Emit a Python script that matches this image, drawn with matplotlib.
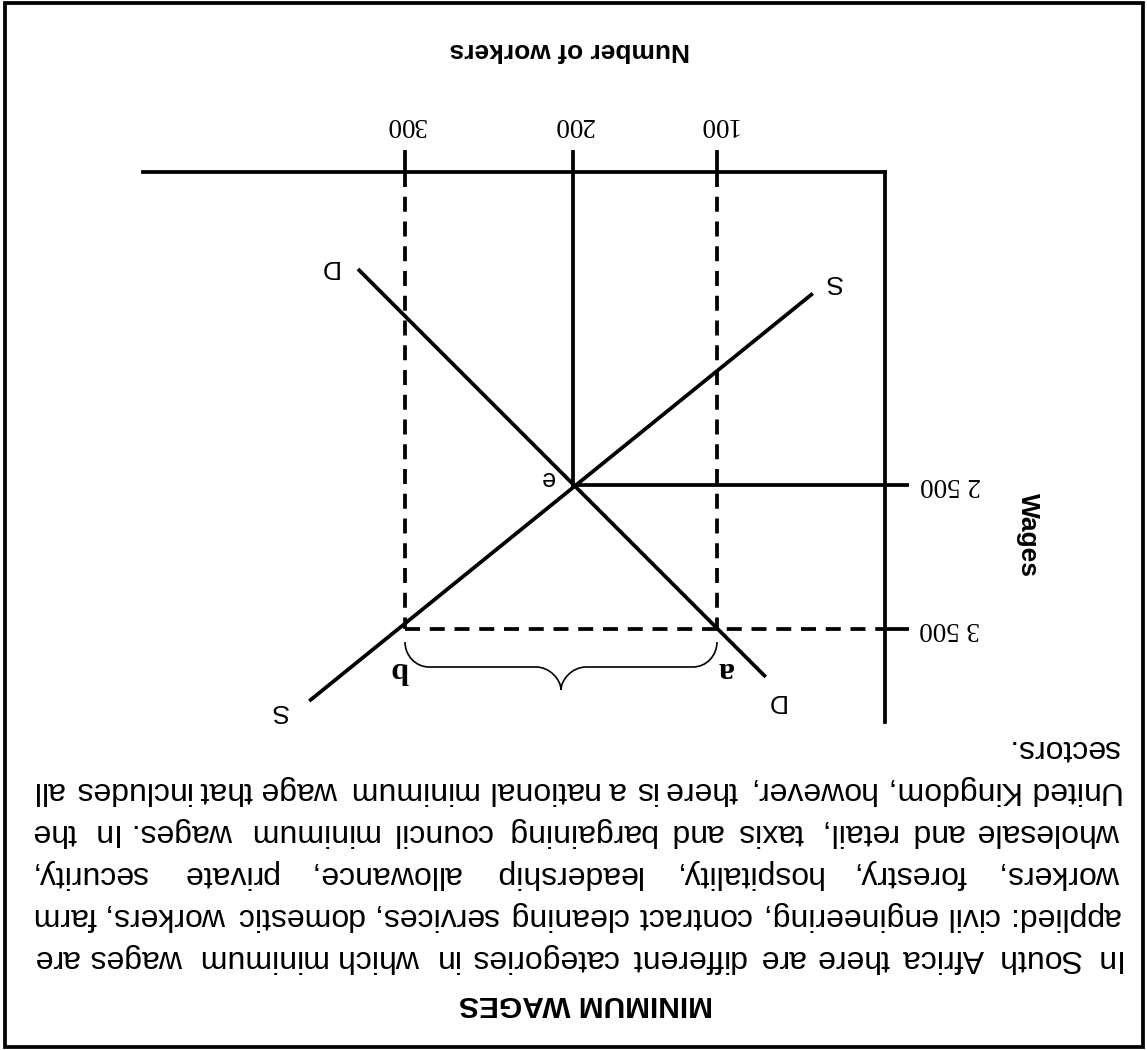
import numpy as np
import matplotlib
matplotlib.use("Agg")
import matplotlib.pyplot as plt
from matplotlib import font_manager
from matplotlib.path import Path
from matplotlib.patches import PathPatch, Rectangle
from matplotlib.transforms import IdentityTransform

W, H = 1147, 1050

title = "MINIMUM WAGES"
para_lines = [
    "In South Africa there are different categories in which minimum wages are",
    "applied: civil engineering, contract cleaning services, domestic workers, farm",
    "workers, forestry, hospitality, leadership allowance, private security,",
    "wholesale and retail, taxis and bargaining council minimum wages. In the",
    "United Kingdom, however, there is a national minimum wage that includes all",
    "sectors.",
]

x_label = "Number of workers"
y_label = "Wages"
q_ticks = [100, 200, 300]
q_tick_labels = ["100", "200", "300"]
w_ticks = [2500, 3500]
w_tick_labels = ["2 500", "3 500"]

# equilibrium (e) and the minimum wage points a, b
q_e, w_e = 200, 2500
q_a, q_b, w_min = 100, 300, 3500

# end points of the two curves
D_q = [328, 71]
D_w = [1000, 3833]
S_q = [43, 357]
S_w = [1170, 4000]

# the sketch is not drawn to scale -> piecewise x scale (px from the origin)
q_knots = [0, 100, 200, 300, 500]
g_knots = [0, 168, 312, 480, 816]

sans = "Liberation Sans"
serif = "Liberation Serif"
installed = {f.name for f in font_manager.fontManager.ttflist}
if "Liberation Sans Narrow" in installed:
    body_font, body_size, title_size = "Liberation Sans Narrow", 27, 25.5
else:
    body_font, body_size, title_size = sans, 23, 21.5
lw = 2.7

fig = plt.figure(figsize=(W / 100, H / 100), dpi=100)


def fx(px):
    return px / W


def fy(py):
    # py counted from the top of the picture
    return 1 - py / H


# the whole page is upside down, so both axes run backwards
ax_l, ax_r, ax_t, ax_b = 143, 885, 172, 722
ax = fig.add_axes([fx(ax_l), fy(ax_b), fx(ax_r) - fx(ax_l), fy(ax_t) - fy(ax_b)])
ax.patch.set_visible(False)
ax.set_xscale("function", functions=(lambda q: np.interp(q, q_knots, g_knots),
                                     lambda g: np.interp(g, g_knots, q_knots)))
q_far = np.interp(ax_r - ax_l, g_knots, q_knots)
ax.set_xlim(q_far, 0)

px_per_w = (629 - 485) / 1000.0
w_top = w_e - (485 - ax_t) / px_per_w
w_bot = w_e + (ax_b - 485) / px_per_w
ax.set_ylim(w_bot, w_top)

for s in ["left", "bottom"]:
    ax.spines[s].set_visible(False)
for s in ["top", "right"]:
    ax.spines[s].set_linewidth(lw)
    ax.spines[s].set_capstyle("projecting")

ax.xaxis.tick_top()
ax.yaxis.tick_right()
ax.set_xticks(q_ticks)
ax.set_xticklabels(q_tick_labels, rotation=180, fontsize=19.5, family=serif)
ax.set_yticks(w_ticks)
ax.set_yticklabels(w_tick_labels, rotation=180, fontsize=19.5, family=serif, va="center")
ax.tick_params(axis="x", direction="out", length=16, width=lw, pad=9)
ax.tick_params(axis="y", direction="out", length=17, width=lw, pad=8)

# curves
ax.plot(D_q, D_w, color="black", lw=lw, solid_capstyle="butt")
ax.plot(S_q, S_w, color="black", lw=lw, solid_capstyle="butt")

# equilibrium lines
ax.plot([q_e, q_e], [w_e, w_top], color="black", lw=lw, clip_on=False)
ax.plot([q_e, 0], [w_e, w_e], color="black", lw=lw, clip_on=False)

# minimum wage dashed lines
dash = (0, (4, 2.6))
ax.plot([q_a, q_a], [w_top, w_min], color="black", lw=lw, ls=dash, clip_on=False)
ax.plot([q_b, q_b], [w_top, w_min], color="black", lw=lw, ls=dash, clip_on=False)
ax.plot([q_b, 0], [w_min, w_min], color="black", lw=lw, ls=dash, clip_on=False)

# curly brace under a-b
pb = ax.transData.transform((q_b, w_min))
pa = ax.transData.transform((q_a, w_min))
L, R = pb[0], pa[0]
M = (L + R) / 2
y0, y1, y2 = pb[1] - 13, pb[1] - 38, pb[1] - 61
k = 0.55
rc, rm = 24, 25
verts = [
    (L, y0), (L, y0 - k * (y0 - y1)), (L + rc - k * rc, y1), (L + rc, y1),
    (M - rm, y1),
    (M - rm + k * rm, y1), (M, y1 - k * (y1 - y2)), (M, y2),
    (M, y1 - k * (y1 - y2)), (M + rm - k * rm, y1), (M + rm, y1),
    (R - rc, y1),
    (R - rc + k * rc, y1), (R, y0 - k * (y0 - y1)), (R, y0),
]
codes = [Path.MOVETO, Path.CURVE4, Path.CURVE4, Path.CURVE4, Path.LINETO,
         Path.CURVE4, Path.CURVE4, Path.CURVE4,
         Path.CURVE4, Path.CURVE4, Path.CURVE4, Path.LINETO,
         Path.CURVE4, Path.CURVE4, Path.CURVE4]
fig.add_artist(PathPatch(Path(verts, codes), transform=IdentityTransform(),
                         fill=False, ec="black", lw=1.2))


# point and curve labels
def mark(txt, xy, off, **kw):
    ax.annotate(txt, xy=xy, xytext=off, textcoords="offset points", rotation=180,
                ha="center", va="center", annotation_clip=False, **kw)


mark("a", (q_a, w_min), (6, -29), fontsize=23, family=serif, fontweight="bold")
mark("b", (q_b, w_min), (-4, -29), fontsize=23, family=serif, fontweight="bold")
mark("e", (q_e, w_e), (-19, 5), fontsize=18, family=sans)
mark("D", (D_q[0], D_w[0]), (-21.6, 1.4), fontsize=19, family=sans)
mark("D", (D_q[1], D_w[1]), (7.2, -17.3), fontsize=19, family=sans)
mark("S", (S_q[0], S_w[0]), (15, 8.6), fontsize=19, family=sans)
mark("S", (S_q[1], S_w[1]), (-21.6, -7.2), fontsize=19, family=sans)

# axis titles
fig.text(fx(570), fy(50), x_label, rotation=180, ha="center", va="center",
         fontsize=19, fontweight="bold", family=sans)
fig.text(fx(1028), fy(535), y_label, rotation=270, ha="center", va="center",
         fontsize=19, fontweight="bold", family=sans)

# heading and justified paragraph
fig.text(fx(586), fy(1004), title, rotation=180, ha="center", va="center",
         fontsize=title_size, fontweight="bold", family=body_font)

renderer = fig.canvas.get_renderer()
start_px, end_px = 1120, 32
for i, line in enumerate(para_lines):
    y = fy(958 - 42 * i)
    words = line.split()
    texts = [fig.text(0, y, w, rotation=180, ha="right", va="center",
                      fontsize=body_size, family=body_font) for w in words]
    widths = [t.get_window_extent(renderer).width for t in texts]
    if i < len(para_lines) - 1 and len(words) > 1:
        gap = (start_px - end_px - sum(widths)) / (len(words) - 1)
    else:
        gap = 9
    x = start_px
    for t, wd in zip(texts, widths):
        t.set_x(fx(x))
        x -= wd + gap

# page frame
fig.add_artist(Rectangle((fx(5), fy(1047)), fx(1143) - fx(5), fy(3) - fy(1047),
                         transform=fig.transFigure, fill=False, ec="black", lw=lw))

fig.savefig("out.png", dpi=100)
